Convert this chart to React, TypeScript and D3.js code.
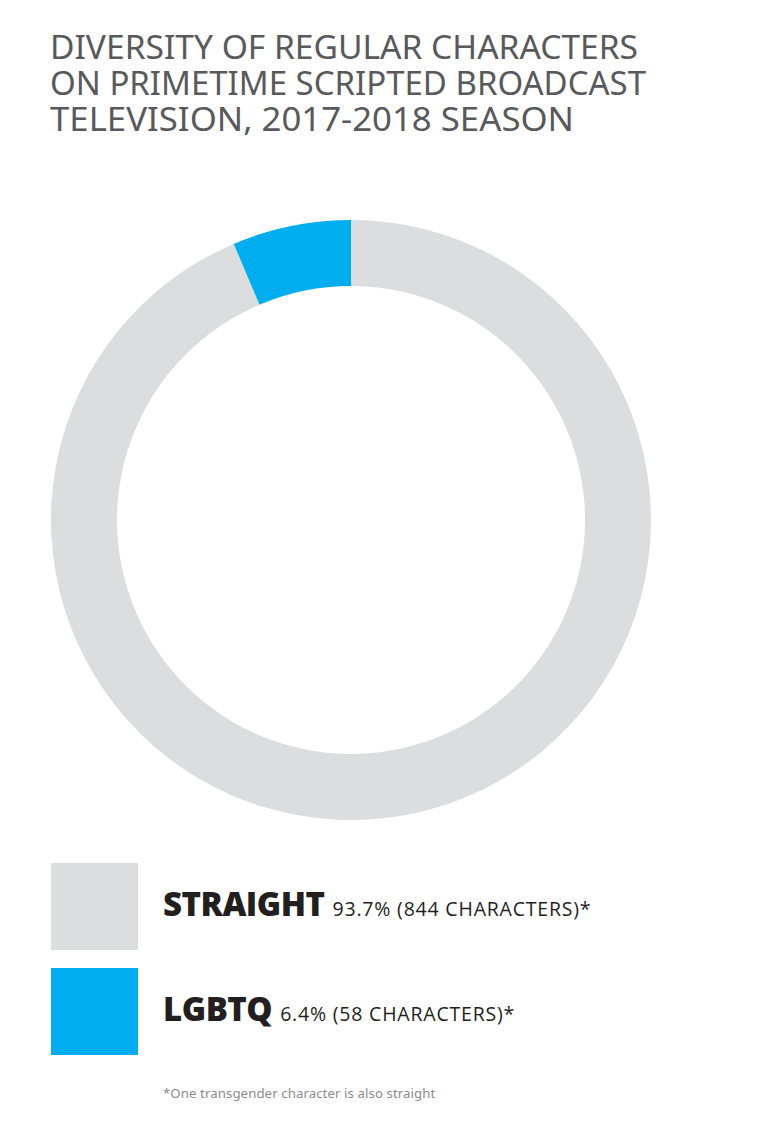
import React from "react";
import * as d3 from "d3";

const categories = ["STRAIGHT", "LGBTQ"];
const percents = [93.7, 6.4];
const counts = [844, 58];
const colors = ["#dcdddf", "#00adee"];
const titleLines = [
  "DIVERSITY OF REGULAR CHARACTERS",
  "ON PRIMETIME SCRIPTED BROADCAST",
  "TELEVISION, 2017-2018 SEASON",
];
const footnote = "*One transgender character is also straight";

export default function App() {
  const W = 782, H = 1128;
  const cx = 351, cy = 520;
  const outerR = 300, innerR = 234;
  const pie = d3.pie<number>().sort(null).value((d) => d);
  const arcs = pie(percents);
  const arc = d3.arc<d3.PieArcDatum<number>>().innerRadius(innerR).outerRadius(outerR);

  return (
    <svg width={W} height={H} style={{ position: "absolute", left: 0, top: 0, background: "#fff" }}>
      <text fontFamily="'Noto Sans', sans-serif" fontSize={32} fill="#58595b">
        {titleLines.map((t, i) => (
          <tspan key={i} x={50} y={59 + i * 36}
            textLength={i === 0 ? 588 : i === 1 ? 596 : 524} lengthAdjust="spacingAndGlyphs">{t}</tspan>
        ))}
      </text>
      <g transform={`translate(${cx},${cy})`}>
        {arcs.map((a, i) => (
          <path key={i} d={arc(a) || ""} fill={colors[i]} />
        ))}
      </g>
      {categories.map((c, i) => {
        const y0 = 863 + i * 105;
        return (
          <g key={c}>
            <rect x={51} y={y0} width={87} height={87} fill={colors[i]} />
            <text x={163} y={y0 + 53} fill="#231f20" fontFamily="'Open Sans', sans-serif">
              <tspan fontWeight={800} fontSize={33} letterSpacing={-0.5}>{c}</tspan>
              <tspan fontSize={19.5} letterSpacing={0.8} dx={8}>{`${percents[i]}% (${counts[i]} CHARACTERS)*`}</tspan>
            </text>
          </g>
        );
      })}
      <text x={163} y={1098} fontFamily="'Noto Sans', sans-serif" fontSize={13.2} letterSpacing={0.1} fill="#8a8b8d">{footnote}</text>
    </svg>
  );
}
